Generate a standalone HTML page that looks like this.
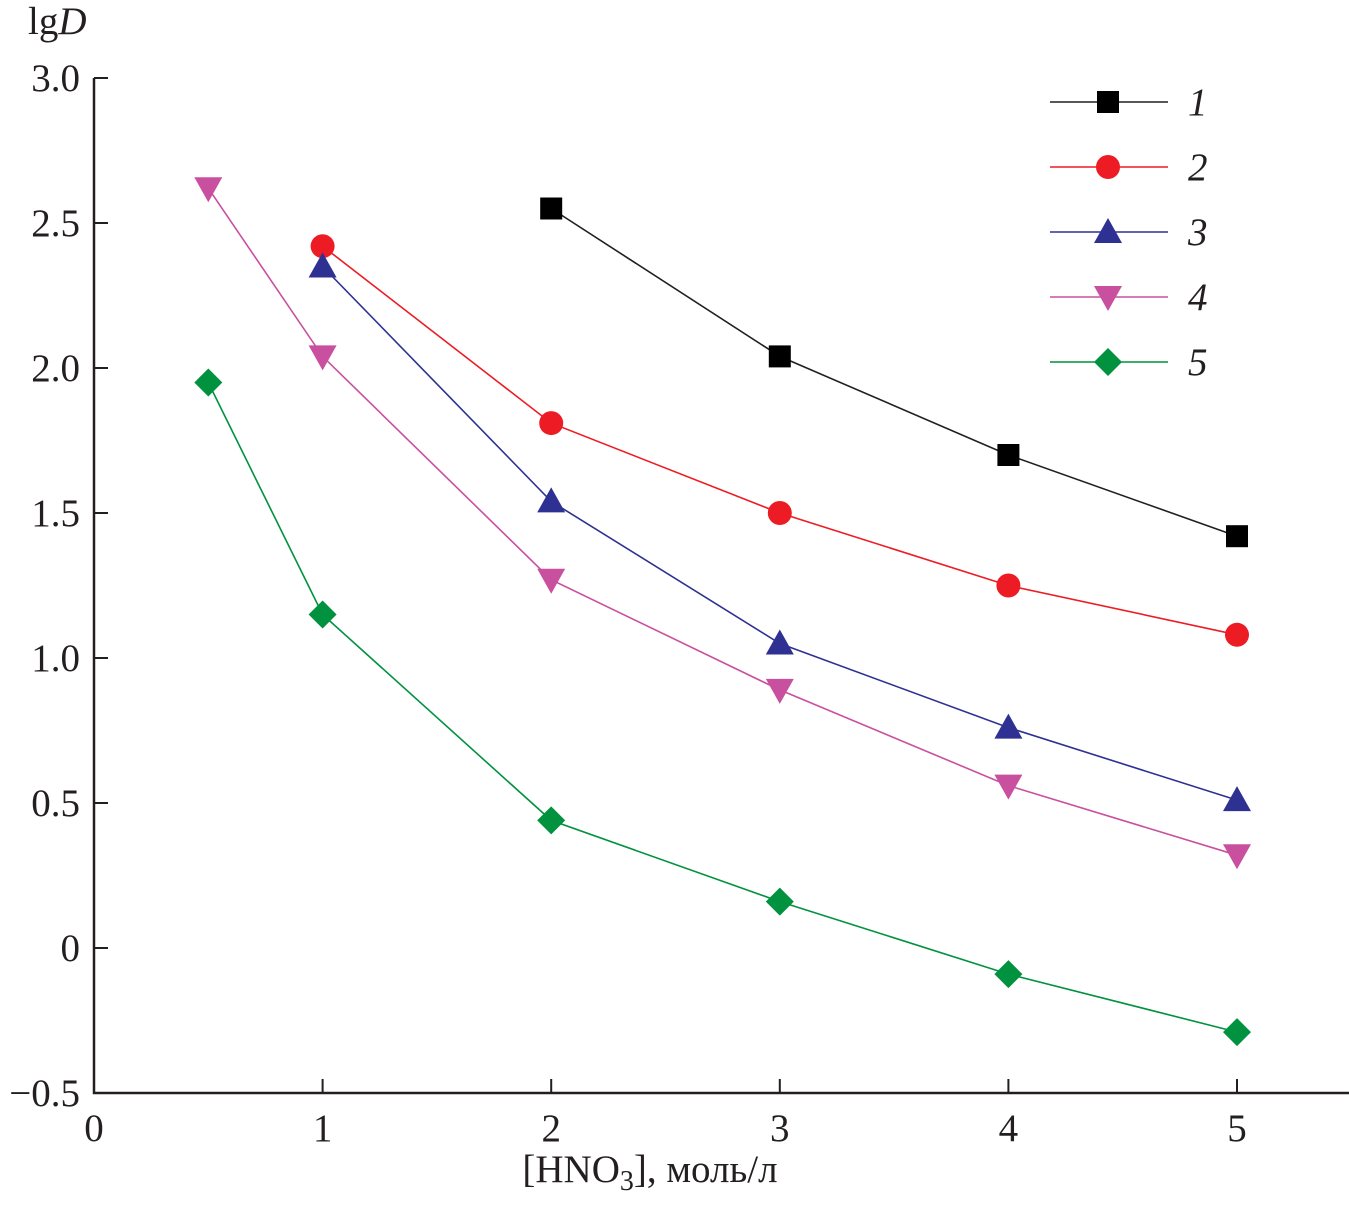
<!DOCTYPE html>
<html><head><meta charset="utf-8"><style>
html,body{margin:0;padding:0;background:#fff;}
svg text{font-family:"Liberation Serif",serif;fill:#231f20;}
</style></head><body>
<svg id="chart" width="1349" height="1204" viewBox="0 0 1349 1204" xmlns="http://www.w3.org/2000/svg">
<text x="28" y="34" font-size="39">lg<tspan font-style="italic">D</tspan></text>
<text x="650" y="1182" font-size="39" text-anchor="middle">[HNO<tspan font-size="28" dy="8">3</tspan><tspan dy="-8">], моль/л</tspan></text>
<g id="axes"></g><g id="series"></g><g id="legend"></g>
</svg>
<script>
const xTicks=[0,1,2,3,4,5];
const yTicks=[3.0,2.5,2.0,1.5,1.0,0.5,0,-0.5];
const yTickLabels=["3.0","2.5","2.0","1.5","1.0","0.5","0","\u22120.5"];
const x1=[2,3,4,5];           const y1=[2.55,2.04,1.70,1.42];
const x2=[1,2,3,4,5];         const y2=[2.42,1.81,1.50,1.25,1.08];
const x3=[1,2,3,4,5];         const y3=[2.35,1.54,1.05,0.76,0.51];
const x4=[0.5,1,2,3,4,5];     const y4=[2.62,2.04,1.27,0.89,0.56,0.32];
const x5=[0.5,1,2,3,4,5];     const y5=[1.95,1.15,0.44,0.16,-0.09,-0.29];
const seriesLabels=["1","2","3","4","5"];

const NS="http://www.w3.org/2000/svg";
const X=v=>94+v*228.6;
const Y=v=>78+(3-v)*290;
function mk(tag,attrs,parent){const e=document.createElementNS(NS,tag);for(const k in attrs)e.setAttribute(k,attrs[k]);parent.appendChild(e);return e;}
const axes=document.getElementById('axes');
let a=mk('path',{d:`M94 78 V1093 H1349`,fill:'none',stroke:'#231f20','stroke-width':2.5},axes);


xTicks.forEach(v=>{
  if(v>0){const t=mk('line',{x1:X(v),x2:X(v),y1:1093,y2:1079,stroke:'#231f20','stroke-width':2},axes);
  
  }
  const l=mk('text',{x:X(v),y:1141,'font-size':39,'text-anchor':'middle'},axes);l.textContent=v;
  
  
});
yTicks.forEach((v,i)=>{
  if(i<yTicks.length-1){const t=mk('line',{x1:94,x2:108,y1:Y(v),y2:Y(v),stroke:'#231f20','stroke-width':2},axes);
  
  }
  const l=mk('text',{x:80,y:Y(v)+13,'font-size':39,'text-anchor':'end'},axes);l.textContent=yTickLabels[i];
  
  
});
const colors=['#000000','#ed1c24','#2e3192','#c9509f','#00923f'];
const lineColors=['#231f20','#ed1c24','#2e3192','#c9509f','#00923f'];
const shapes=['square','circle','up','down','diamond'];
function marker(sh,cx,cy,c,p){
  let e;
  if(sh==='square')e=mk('rect',{x:cx-11,y:cy-11,width:22,height:22,fill:c},p);
  else if(sh==='circle')e=mk('circle',{cx,cy,r:12,fill:c},p);
  else if(sh==='up')e=mk('polygon',{points:`${cx},${cy-14} ${cx+14},${cy+11} ${cx-14},${cy+11}`,fill:c},p);
  else if(sh==='down')e=mk('polygon',{points:`${cx},${cy+14} ${cx+14},${cy-11} ${cx-14},${cy-11}`,fill:c},p);
  else e=mk('polygon',{points:`${cx},${cy-14} ${cx+14},${cy} ${cx},${cy+14} ${cx-14},${cy}`,fill:c},p);
  return e;
}
const sg=document.getElementById('series');
[[x1,y1],[x2,y2],[x3,y3],[x4,y4],[x5,y5]].forEach(([xs,ys],s)=>{
  const g=mk('g',{},sg);
  
  
  const ln=mk('polyline',{points:xs.map((x,i)=>X(x)+','+Y(ys[i])).join(' '),fill:'none',stroke:lineColors[s],'stroke-width':1.6},g);
  
  
  xs.forEach((x,i)=>{const m=marker(shapes[s],X(x),Y(ys[i]),colors[s],g);
    
    });
});
const lg=document.getElementById('legend');
seriesLabels.forEach((lab,s)=>{
  const y=102+s*65;
  const g=mk('g',{},lg);
  
  
  mk('line',{x1:1050,x2:1168,y1:y,y2:y,stroke:lineColors[s],'stroke-width':1.6},g);
  marker(shapes[s],1108,y,colors[s],g);
  const t=mk('text',{x:1188,y:y+13,'font-size':39,'font-style':'italic'},g);t.textContent=lab;
});
</script>
</body></html>
